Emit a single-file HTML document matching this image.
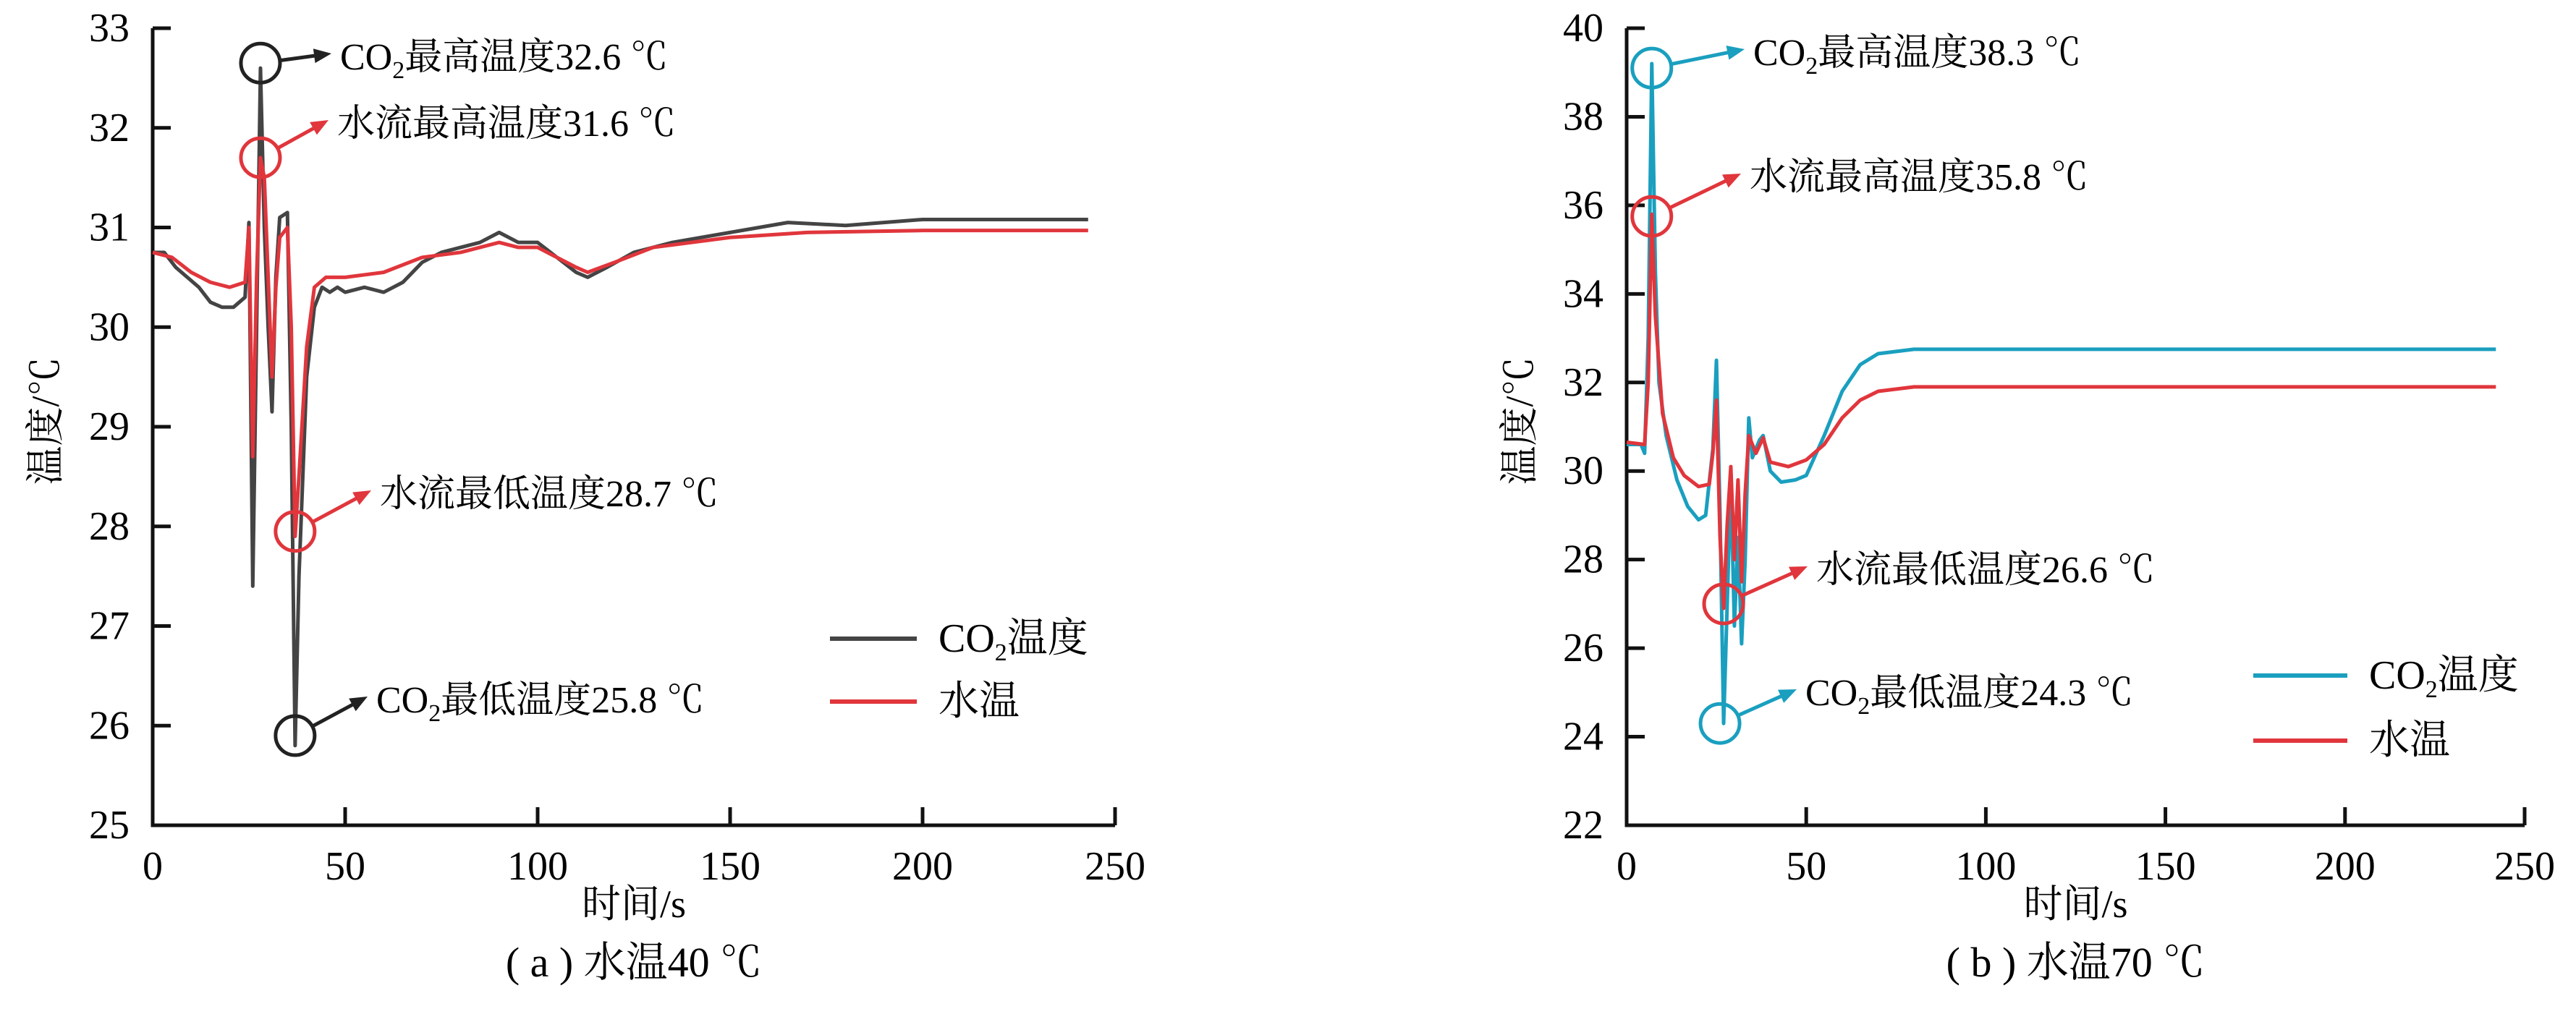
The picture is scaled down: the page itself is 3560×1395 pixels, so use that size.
<!DOCTYPE html>
<html><head><meta charset="utf-8">
<style>
html,body{margin:0;padding:0;background:#fff;}
svg{display:block;font-family:"Liberation Serif","Noto Serif CJK SC",serif;}
</style></head>
<body>
<svg id="svg" width="3560" height="1395" viewBox="0 0 3560 1395" xmlns="http://www.w3.org/2000/svg"></svg>
<script>
// ---- Chart (a) data ----
const aTimeCO2 = [0,3,6,9,12,15,18,21,24,25,26,27,28,29,30,31,32,33,35,36,37,38,40,42,44,46,48,50,55,60,65,70,75,80,85,90,95,100,105,110,113,118,125,135,150,165,180,200,243];
const aCO2 = [30.75,30.75,30.6,30.5,30.4,30.25,30.2,30.2,30.3,31.05,27.4,30.0,32.6,31.0,30.0,29.15,30.5,31.1,31.15,29.0,25.8,27.5,29.5,30.2,30.4,30.35,30.4,30.35,30.4,30.35,30.45,30.65,30.75,30.8,30.85,30.95,30.85,30.85,30.7,30.55,30.5,30.6,30.75,30.85,30.95,31.05,31.02,31.08,31.08];
const aTimeW = [0,5,10,15,20,24,25,26,27,28,29,30,31,32,33,35,36,37,38,40,42,45,50,60,70,80,90,95,100,105,110,113,120,130,150,170,200,243];
const aWater = [30.75,30.7,30.55,30.45,30.4,30.45,31.0,28.7,30.5,31.7,31.5,30.5,29.5,30.4,30.9,31.0,30.0,27.9,28.5,29.8,30.4,30.5,30.5,30.55,30.7,30.75,30.85,30.8,30.8,30.7,30.6,30.55,30.65,30.8,30.9,30.95,30.97,30.97];
const aXTicks = [0,50,100,150,200,250];
const aYTicks = [25,26,27,28,29,30,31,32,33];
// ---- Chart (b) data ----
const bTimeCO2 = [0,4,5,6,7,8,9,11,14,17,20,22,24,25,26,27,28,29,30,31,32,33,34,35,37,38,40,43,47,50,55,60,65,70,80,242];
const bCO2 = [30.6,30.6,30.4,33,39.2,34.5,32,30.8,29.8,29.2,28.9,29.0,30.5,32.5,29,24.3,27,29.8,26.5,28.5,26.1,28,31.2,30.3,30.7,30.8,30.0,29.75,29.8,29.9,30.8,31.8,32.4,32.65,32.75,32.75];
const bTimeW = [0,5,6,7,8,10,13,16,20,23,24,25,26,27,28,29,30,31,32,33,34,36,38,40,45,50,55,60,65,70,80,242];
const bWater = [30.65,30.6,32,35.8,33.5,31.3,30.3,29.9,29.65,29.7,30.4,31.6,28.5,26.9,28.8,30.1,28,29.8,27.5,29.5,30.8,30.4,30.75,30.2,30.1,30.25,30.6,31.2,31.6,31.8,31.9,31.9];
const bXTicks = [0,50,100,150,200,250];
const bYTicks = [22,24,26,28,30,32,34,36,38,40];

const NS="http://www.w3.org/2000/svg";
const svg=document.getElementById('svg');
function mk(tag,attrs,parent){const e=document.createElementNS(NS,tag);for(const k in attrs)e.setAttribute(k,attrs[k]);(parent||svg).appendChild(e);return e;}

function chart(cfg){
  const g=mk('g',{});
  
  
  const X=v=>cfg.x0+(v-cfg.xmin)/(cfg.xmax-cfg.xmin)*(cfg.x1-cfg.x0);
  const Y=v=>cfg.y0-(v-cfg.ymin)/(cfg.ymax-cfg.ymin)*(cfg.y0-cfg.y1);
  const ax=mk('path',{d:`M${cfg.x0},${cfg.y1} V${cfg.y0} H${cfg.x1}`,fill:'none',stroke:'#111','stroke-width':5},g);
  
  
  cfg.xt.forEach(t=>{
    const tk=mk('line',{x1:X(t),x2:X(t),y1:cfg.y0,y2:cfg.y0-25,stroke:'#111','stroke-width':5},g);
    
    
    const lb=mk('text',{x:X(t),y:cfg.y0+75,'text-anchor':'middle','font-size':56},g);
    lb.textContent=t;
    
    
  });
  cfg.yt.forEach(t=>{
    if(t!==cfg.ymin){
      const tk=mk('line',{x1:cfg.x0,x2:cfg.x0+25,y1:Y(t),y2:Y(t),stroke:'#111','stroke-width':5},g);
      
      
    }
    const lb=mk('text',{x:cfg.x0-32,y:Y(t)+18,'text-anchor':'end','font-size':56},g);
    lb.textContent=t;
    
    
  });
  const line=(ts,vs,col,name)=>{
    const p=mk('polyline',{points:ts.map((t,i)=>X(t)+','+Y(vs[i])).join(' '),fill:'none',stroke:col,'stroke-width':5,'stroke-linejoin':'round'},g);
    
    
  };
  line(cfg.tc,cfg.vc,cfg.cCol,'co2-temperature-line');
  line(cfg.tw,cfg.vw,'#e0363c','water-temperature-line');
  cfg.ann.forEach(a=>{
    const cx=X(a.t),cy=Y(a.v);
    const c=mk('circle',{cx:cx,cy:cy,r:27,fill:'none',stroke:a.col,'stroke-width':5},g);
    
    
    const ex=a.tx-12,ey=a.ty-22;
    const ang=Math.atan2(ey-cy,ex-cx);
    const sx=cx+27*Math.cos(ang),sy=cy+27*Math.sin(ang);
    const ar=mk('line',{x1:sx,y1:sy,x2:ex-18*Math.cos(ang),y2:ey-18*Math.sin(ang),stroke:a.col,'stroke-width':5},g);
    
    
    const h=mk('polygon',{points:`${ex},${ey} ${ex-24*Math.cos(ang)+10*Math.sin(ang)},${ey-24*Math.sin(ang)-10*Math.cos(ang)} ${ex-24*Math.cos(ang)-10*Math.sin(ang)},${ey-24*Math.sin(ang)+10*Math.cos(ang)}`,fill:a.col},g);
    
    
    const tx=mk('text',{x:a.tx,y:a.ty,'font-size':52},g);
    tx.innerHTML=a.html;
    
    
  });
  [[cfg.cCol,'CO<tspan font-size="34" dy="12">2</tspan><tspan dy="-12">温度</tspan>',cfg.ly1],['#e0363c','水温',cfg.ly2]].forEach(([col,html,ly])=>{
    const l=mk('line',{x1:cfg.lx,x2:cfg.lx+cfg.lw,y1:ly,y2:ly,stroke:col,'stroke-width':6},g);
    
    
    const t=mk('text',{x:cfg.lx+cfg.lw+30,y:ly+18,'font-size':56},g);
    t.innerHTML=html;
    
    
  });
  const yt=mk('text',{x:0,y:0,'font-size':54,'text-anchor':'middle',transform:`translate(${cfg.x0-130},582) rotate(-90)`},g);
  yt.textContent='温度/℃';
  
  
  const xt=mk('text',{x:(cfg.x0+cfg.x1)/2,y:1268,'font-size':54,'text-anchor':'middle'},g);
  xt.textContent='时间/s';
  
  
  const cp=mk('text',{x:(cfg.x0+cfg.x1)/2,y:1350,'font-size':58,'text-anchor':'middle'},g);
  cp.textContent=cfg.caption;
  
  
}
const co2=(v,p)=>`CO<tspan font-size="34" dy="12">2</tspan><tspan dy="-12">${p}${v} ℃</tspan>`;
chart({name:'chart-a',x0:211,x1:1541,y0:1141,y1:39,xmin:0,xmax:250,ymin:25,ymax:33,xt:aXTicks,yt:aYTicks,
  tc:aTimeCO2,vc:aCO2,tw:aTimeW,vw:aWater,cCol:'#444',
  ann:[{t:28,v:32.65,col:'#222',tx:470,ty:96,html:co2('32.6','最高温度')},
       {t:28,v:31.7,col:'#e0363c',tx:466,ty:188,html:'水流最高温度31.6 ℃'},
       {t:37,v:27.95,col:'#e0363c',tx:525,ty:700,html:'水流最低温度28.7 ℃'},
       {t:37,v:25.9,col:'#222',tx:520,ty:985,html:co2('25.8','最低温度')}],
  lx:1147,lw:120,ly1:883,ly2:970,caption:'( a ) 水温40 ℃'});
chart({name:'chart-b',x0:2248,x1:3489,y0:1141,y1:39,xmin:0,xmax:250,ymin:22,ymax:40,xt:bXTicks,yt:bYTicks,
  tc:bTimeCO2,vc:bCO2,tw:bTimeW,vw:bWater,cCol:'#1a9fbf',
  ann:[{t:7,v:39.1,col:'#1a9fbf',tx:2423,ty:90,html:co2('38.3','最高温度')},
       {t:7,v:35.75,col:'#e0363c',tx:2418,ty:262,html:'水流最高温度35.8 ℃'},
       {t:27,v:27.0,col:'#e0363c',tx:2510,ty:805,html:'水流最低温度26.6 ℃'},
       {t:26,v:24.3,col:'#1a9fbf',tx:2495,ty:975,html:co2('24.3','最低温度')}],
  lx:3114,lw:130,ly1:934,ly2:1024,caption:'( b ) 水温70 ℃'});
</script>
</body></html>
